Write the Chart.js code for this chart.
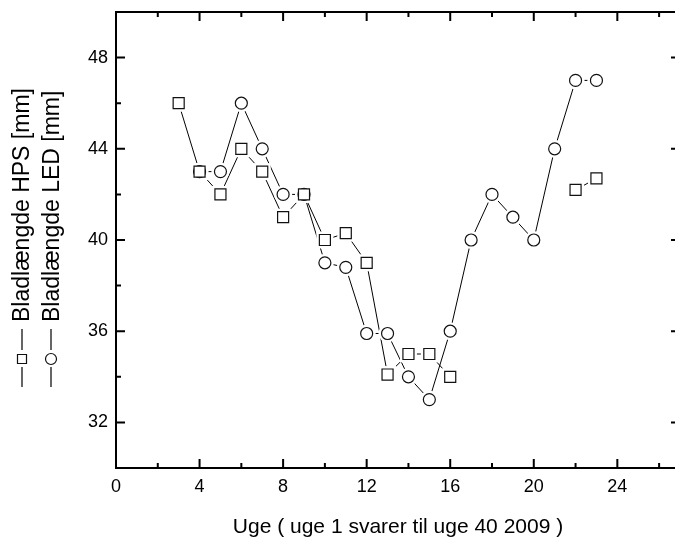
<!DOCTYPE html>
<html>
<head>
<meta charset="utf-8">
<script src="https://cdn.jsdelivr.net/npm/chart.js@4.4.1/dist/chart.umd.min.js"></script>
<style>
  html, body { margin: 0; padding: 0; background: #fff; overflow: hidden; }
  #wrap { width: 700px; height: 543px; }
</style>
</head>
<body>
<div id="wrap"><canvas id="leafChart" width="700" height="543"></canvas></div>
<script>
// Bladlængde pr. uge, HPS og LED
const weeks = [3, 4, 5, 6, 7, 8, 9, 10, 11, 12, 13, 14, 15, 16, 17, 18, 19, 20, 21, 22, 23];
const hpsLength = [46, 43, 42, 44, 43, 41, 42, 40, 40.3, 39, 34.1, 35, 35, 34, null, null, null, null, null, 42.2, 42.7];
const ledLength = [null, 43, 43, 46, 44, 42, 42, 39, 38.8, 35.9, 35.9, 34, 33, 36, 40, 42, 41, 40, 44, 47, 47];

const xTickValues = [0, 4, 8, 12, 16, 20, 24];
const yTickValues = [32, 36, 40, 44, 48];
const seriesLabels = ['Bladlængde HPS [mm]', 'Bladlængde LED [mm]'];
const xTitle = 'Uge ( uge 1 svarer til uge 40 2009 )';

Chart.defaults.font.family = '"Liberation Sans", Arial, sans-serif';
Chart.defaults.color = '#000';

const toPoints = vals => weeks.map((w, i) => ({ x: w, y: vals[i] }));

// line first, white halo to open a gap round each marker, then the marker itself
function lineSet(vals) {
  return { data: toPoints(vals), borderColor: '#000', borderWidth: 1, pointRadius: 0,
           tension: 0, spanGaps: false, order: 3 };
}
function haloSet(vals, style, r) {
  return { data: toPoints(vals), showLine: false, pointStyle: style, pointRadius: r,
           pointBackgroundColor: '#fff', pointBorderWidth: 0, order: 2 };
}
function markerSet(vals, style, r) {
  return { data: toPoints(vals), showLine: false, pointStyle: style, pointRadius: r,
           pointBackgroundColor: '#fff', pointBorderColor: '#111', pointBorderWidth: 1.2, order: 1 };
}

// axis box with inward major/minor ticks on all four sides
const frameTicks = {
  id: 'frameTicks',
  afterDatasetsDraw(chart) {
    const { ctx, chartArea: a, scales: { x, y } } = chart;
    ctx.save();
    ctx.strokeStyle = '#000';
    ctx.lineWidth = 2;
    ctx.strokeRect(a.left, a.top, a.right - a.left, a.bottom - a.top);
    ctx.beginPath();
    for (let v = 2; v < 27; v += 2) {
      const px = x.getPixelForValue(v);
      const len = v % 4 === 0 ? 9 : 5;
      ctx.moveTo(px, a.bottom); ctx.lineTo(px, a.bottom - len);
      ctx.moveTo(px, a.top); ctx.lineTo(px, a.top + len);
    }
    for (let v = 32; v < 50; v += 2) {
      const py = y.getPixelForValue(v);
      const len = v % 4 === 0 ? 9 : 5;
      ctx.moveTo(a.left, py); ctx.lineTo(a.left + len, py);
      ctx.moveTo(a.right, py); ctx.lineTo(a.right - len, py);
    }
    ctx.stroke();
    ctx.restore();
  }
};

// rotated legend along the left edge
const sideLegend = {
  id: 'sideLegend',
  afterDraw(chart) {
    const ctx = chart.ctx;
    const rows = [
      { label: seriesLabels[0], style: 'rect', cx: 22, tx: 23 },
      { label: seriesLabels[1], style: 'circle', cx: 51, tx: 53 }
    ];
    rows.forEach(r => {
      ctx.save();
      ctx.translate(r.cx, 387);
      ctx.rotate(-Math.PI / 2);
      ctx.strokeStyle = '#000';
      ctx.lineWidth = 1.2;
      ctx.beginPath();
      ctx.moveTo(0, 0); ctx.lineTo(20, 0);
      ctx.moveTo(37, 0); ctx.lineTo(58, 0);
      ctx.stroke();
      ctx.fillStyle = '#fff';
      ctx.strokeStyle = '#111';
      ctx.beginPath();
      if (r.style === 'rect') ctx.rect(23.5, -4.5, 9, 9);
      else ctx.arc(28, 0, 5.5, 0, Math.PI * 2);
      ctx.fill();
      ctx.stroke();
      ctx.fillStyle = '#000';
      ctx.font = '23px "Liberation Sans", Arial, sans-serif';
      ctx.textBaseline = 'middle';
      ctx.textAlign = 'left';
      ctx.fillText(r.label, 65, r.tx - r.cx);
      ctx.restore();
    });
  }
};

new Chart(document.getElementById('leafChart'), {
  type: 'line',
  data: {
    datasets: [
      lineSet(hpsLength),
      lineSet(ledLength),
      haloSet(hpsLength, 'rect', 12),
      haloSet(ledLength, 'circle', 9),
      markerSet(hpsLength, 'rect', 7.8),
      markerSet(ledLength, 'circle', 6)
    ]
  },
  options: {
    responsive: false,
    animation: false,
    layout: { padding: { left: 0, right: 20, top: 11, bottom: 0 } },
    plugins: { legend: { display: false }, tooltip: { enabled: false } },
    scales: {
      x: {
        type: 'linear', min: 0, max: 27,
        afterBuildTicks: s => { s.ticks = xTickValues.map(v => ({ value: v })); },
        afterFit: s => { s.height = 75; s.paddingLeft = 0; s.paddingRight = 0; },
        grid: { display: false, drawTicks: false },
        border: { display: false },
        ticks: { font: { size: 18 }, color: '#000', padding: 8, maxRotation: 0, autoSkip: false },
        title: { display: true, text: xTitle, font: { size: 21 }, color: '#000', padding: { top: 0, bottom: 3 } }
      },
      y: {
        type: 'linear', min: 30, max: 50,
        afterBuildTicks: s => { s.ticks = yTickValues.map(v => ({ value: v })); },
        afterFit: s => { s.width = 116; s.paddingTop = 0; s.paddingBottom = 0; },
        grid: { display: false, drawTicks: false },
        border: { display: false },
        ticks: { font: { size: 18 }, color: '#000', padding: 8 }
      }
    }
  },
  plugins: [frameTicks, sideLegend]
});
</script>
</body>
</html>
